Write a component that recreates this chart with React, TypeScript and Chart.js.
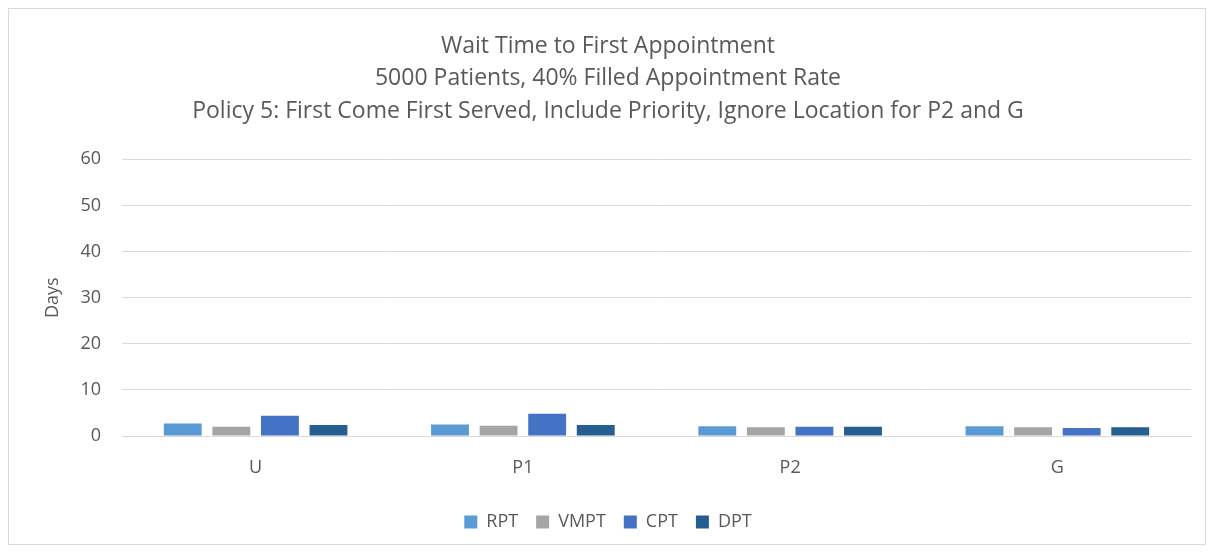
import React, { useEffect, useRef } from "react";
import { Chart, registerables } from "chart.js";

Chart.register(...registerables);

const categories = ["U", "P1", "P2", "G"];
const rpt = [2.7, 2.5, 2.1, 2.1];
const vmpt = [2.0, 2.2, 1.9, 1.9];
const cpt = [4.4, 4.85, 2.0, 1.75];
const dpt = [2.4, 2.4, 2.0, 1.9];
const titleLines = [
  "Wait Time to First Appointment",
  "5000 Patients, 40% Filled Appointment Rate",
  "Policy 5: First Come First Served, Include Priority, Ignore Location for P2 and G",
];

const FONT = "'Open Sans', 'Liberation Sans', sans-serif";
const TXT = "#595959";

export default function App() {
  const ref = useRef<HTMLCanvasElement | null>(null);
  useEffect(() => {
    if (!ref.current) return;
    const mk = (label: string, data: number[], color: string) => ({
      label,
      data,
      backgroundColor: color,
      borderColor: "#ffffff",
      borderWidth: 0,
      categoryPercentage: 0.727,
      barPercentage: 0.78,
    });
    const chart = new Chart(ref.current, {
      type: "bar",
      data: {
        labels: categories,
        datasets: [
          mk("RPT", rpt, "#5b9bd5"),
          mk("VMPT", vmpt, "#a5a5a5"),
          mk("CPT", cpt, "#4472c4"),
          mk("DPT", dpt, "#255e91"),
        ],
      },
      options: {
        animation: false,
        responsive: false,
        maintainAspectRatio: false,
        layout: { padding: { left: 16, right: 14, top: 14, bottom: 3 } },
        plugins: {
          title: {
            display: true,
            text: titleLines,
            color: TXT,
            font: { family: FONT, size: 23, weight: "normal", lineHeight: 1.41 },
            padding: { top: 7, bottom: 32 },
          },
          legend: {
            position: "bottom",
            labels: {
              color: TXT,
              font: { family: FONT, size: 18 },
              boxWidth: 13,
              boxHeight: 13,
              padding: 18,
            },
          },
          tooltip: { enabled: false },
        },
        scales: {
          x: {
            afterFit: (s: any) => {
              s.height = 59;
            },
            grid: { display: false, drawTicks: false },
            border: { color: "#d9d9d9", width: 1 },
            ticks: { color: TXT, font: { family: FONT, size: 18 }, padding: 21 },
          },
          y: {
            min: 0,
            max: 60,
            afterFit: (s: any) => {
              s.width = 97;
            },
            ticks: { stepSize: 10, color: TXT, font: { family: FONT, size: 18 }, padding: 21 },
            grid: { color: "#d9d9d9", drawTicks: false },
            border: { display: false },
            title: {
              display: true,
              text: "Days",
              color: TXT,
              font: { family: FONT, size: 18 },
              padding: { top: 17, bottom: 12 },
            },
          },
        },
      },
    });
    return () => chart.destroy();
  }, []);
  return (
    <div style={{ width: 1196, height: 535, border: "1px solid #d9d9d9" }}>
      <canvas ref={ref} width={1196} height={535} style={{ display: "block" }} />
    </div>
  );
}
